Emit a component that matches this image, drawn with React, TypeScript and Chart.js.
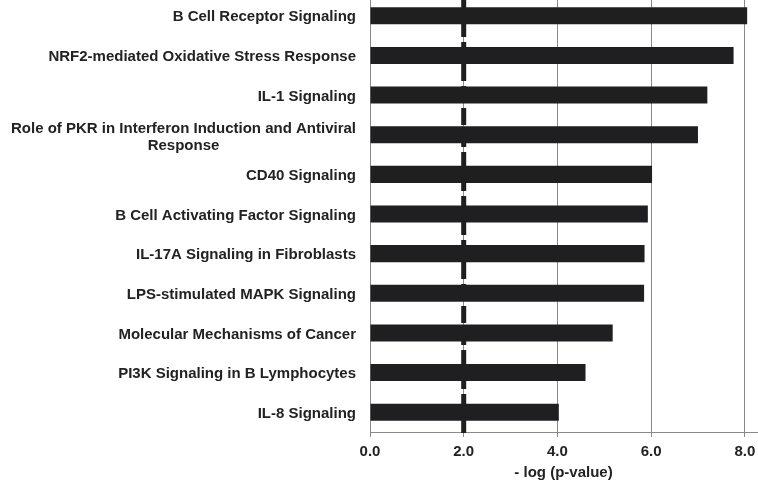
import { useEffect, useRef } from 'react';
import { Chart, registerables } from 'chart.js';

Chart.register(...registerables);

const categories: (string | string[])[] = [
  'B Cell Receptor Signaling',
  'NRF2-mediated Oxidative Stress Response',
  'IL-1 Signaling',
  ['Role of PKR in Interferon Induction and Antiviral', 'Response'],
  'CD40 Signaling',
  'B Cell Activating Factor Signaling',
  'IL-17A Signaling in Fibroblasts',
  'LPS-stimulated MAPK Signaling',
  'Molecular Mechanisms of Cancer',
  'PI3K Signaling in B Lymphocytes',
  'IL-8 Signaling',
];

const values: number[] = [8.05, 7.76, 7.2, 7.0, 6.02, 5.93, 5.86, 5.85, 5.18, 4.6, 4.03];

const xTicks: number[] = [0, 2, 4, 6, 8];

const threshold = 2.0;

const xTitle = '- log (p-value)';

const FONT = '"Liberation Sans", Arial, Helvetica, sans-serif';
const BAR = '#1f1f21';
const TEXT = '#222222';
const GRID = '#8a8a8a';

const yLabelPlugin = {
  id: 'yLabels',
  afterDraw(chart: any) {
    const { ctx, chartArea } = chart;
    const yScale = chart.scales.y;
    const right = chartArea.left - 14;
    const lh = 17;
    ctx.save();
    ctx.font = `bold 15px ${FONT}`;
    ctx.fillStyle = TEXT;
    ctx.textBaseline = 'middle';
    categories.forEach((cat, i) => {
      const y = yScale.getPixelForValue(i) + 1.5;
      const lines = Array.isArray(cat) ? cat : [cat];
      const y0 = y + 1 - ((lines.length - 1) * lh) / 2;
      if (lines.length === 1) {
        ctx.textAlign = 'right';
        ctx.fillText(lines[0], right, y);
      } else {
        const w = Math.max(...lines.map((l) => ctx.measureText(l).width));
        ctx.textAlign = 'center';
        lines.forEach((l, k) => ctx.fillText(l, right - w / 2, y0 + k * lh));
      }
    });
    ctx.restore();
  },
};

const thresholdPlugin = {
  id: 'threshold',
  afterDatasetsDraw(chart: any) {
    const { ctx, chartArea } = chart;
    const x = chart.scales.x.getPixelForValue(threshold);
    ctx.save();
    ctx.strokeStyle = BAR;
    ctx.lineWidth = 5;
    ctx.setLineDash([17, 5]);
    ctx.lineDashOffset = -2;
    ctx.beginPath();
    ctx.moveTo(x, chartArea.top);
    ctx.lineTo(x, chartArea.bottom + 5);
    ctx.stroke();
    ctx.restore();
  },
};

export default function App() {
  const ref = useRef<HTMLCanvasElement | null>(null);

  useEffect(() => {
    if (!ref.current) return;
    const chart = new Chart(ref.current, {
      type: 'bar',
      data: {
        labels: categories as any,
        datasets: [
          {
            data: values,
            backgroundColor: BAR,
            borderWidth: 0,
            barPercentage: 0.43,
            categoryPercentage: 1,
          },
        ],
      },
      options: {
        indexAxis: 'y',
        animation: false,
        responsive: false,
        devicePixelRatio: 1,
        layout: { padding: { top: 0, right: 1, bottom: 0, left: 0 } },
        plugins: {
          legend: { display: false },
          tooltip: { enabled: false },
        },
        scales: {
          x: {
            type: 'linear',
            min: 0,
            max: 8.26,
            afterBuildTicks: (s: any) => {
              s.ticks = xTicks.map((v) => ({ value: v }));
            },
            afterFit: (s: any) => {
              s.height = 53;
              s.paddingRight = 0;
              s.paddingLeft = 0;
            },
            grid: {
              color: GRID,
              lineWidth: 1,
              tickLength: 5,
              tickColor: GRID,
              drawTicks: true,
            },
            border: { display: true, color: GRID, width: 1 },
            ticks: {
              padding: 6,
              color: TEXT,
              font: { family: FONT, size: 15, weight: 'bold' },
              callback: (v: any) => Number(v).toFixed(1),
            },
            title: {
              display: true,
              text: xTitle,
              color: TEXT,
              font: { family: FONT, size: 15, weight: 'bold' },
              padding: { top: 0, bottom: 3.5 },
            },
          },
          y: {
            type: 'category',
            afterFit: (s: any) => {
              s.width = 370;
            },
            grid: { display: false },
            border: { display: true, color: GRID, width: 1 },
            ticks: { display: false },
          },
        },
      },
      plugins: [yLabelPlugin, thresholdPlugin],
    } as any);
    return () => chart.destroy();
  }, []);

  return (
    <div style={{ position: 'absolute', left: 0, top: -4, width: 758, height: 489, background: '#fff' }}>
      <canvas ref={ref} width={758} height={489} style={{ display: 'block' }} />
    </div>
  );
}
